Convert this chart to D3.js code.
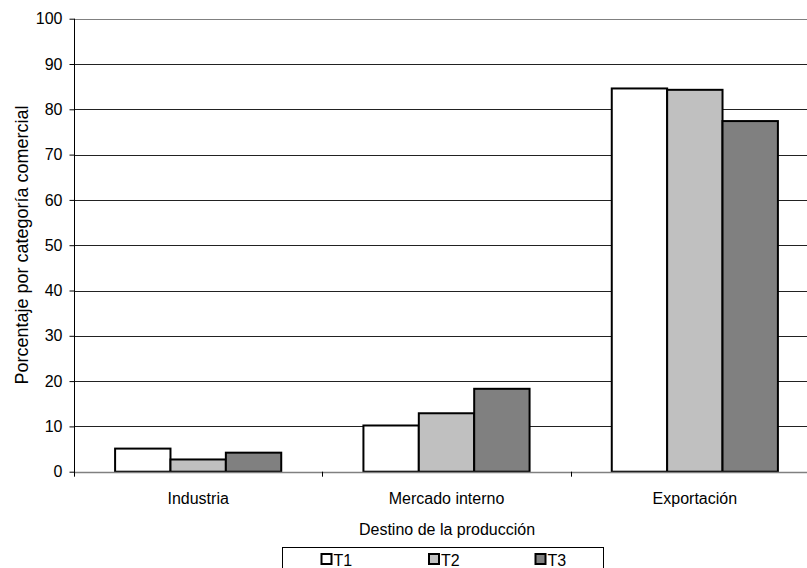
<!DOCTYPE html>
<html><head><meta charset="utf-8">
<script src="https://cdn.jsdelivr.net/npm/d3@7"></script>
<style>body{margin:0;background:#fff}svg{display:block}text{font-family:"Liberation Sans",Arial,sans-serif;fill:#000}</style>
</head><body><svg id="c" width="807" height="568"></svg>
<script>
const categories = ["Industria", "Mercado interno", "Exportación"];
const seriesNames = ["T1", "T2", "T3"];
const T1 = [5.1, 10.2, 84.6];
const T2 = [2.7, 12.9, 84.3];
const T3 = [4.2, 18.3, 77.4];
const yTicks = [0,10,20,30,40,50,60,70,80,90,100];
const colors = ["#ffffff", "#c0c0c0", "#808080"];
const series = [T1, T2, T3];

(function(){
const FS = "16px";
const svg = d3.select("#c");
const mLeft = 74, mRight = 819, mTop = 18.7, mBottom = 471.7;
const x = d3.scaleBand().domain(categories).range([mLeft, mRight]).paddingInner(0.331).paddingOuter(0.1655);
const x0 = d3.scaleBand().domain(categories).range([mLeft, mRight]);
const xs = d3.scaleBand().domain(seriesNames).range([0, x.bandwidth()]);
const y = d3.scaleLinear().domain([0, 100]).range([mBottom, mTop]);

// gridlines
svg.append("g").selectAll("line").data(yTicks.filter(d => d > 0)).join("line")
  .attr("x1", mLeft).attr("x2", 807).attr("y1", d => Math.round(y(d)) + 0.5).attr("y2", d => Math.round(y(d)) + 0.5)
  .attr("stroke", d => d === 100 ? "#808080" : "#222").attr("stroke-width", 1);

// bars
const g = svg.append("g");
categories.forEach((c, i) => {
  series.forEach((s, j) => {
    g.append("rect")
      .attr("x", x(c) + xs(seriesNames[j]))
      .attr("y", y(s[i]))
      .attr("width", xs.bandwidth())
      .attr("height", y(0) - y(s[i]))
      .attr("fill", colors[j]).attr("stroke", "#000").attr("stroke-width", 2);
  });
});

// zero baseline
svg.append("line").attr("x1", mLeft).attr("x2", 807).attr("y1", Math.round(y(0))+0.5).attr("y2", Math.round(y(0))+0.5)
  .attr("stroke", "#808080").attr("stroke-width", 1.5);

// y axis
const yAxis = d3.axisLeft(y).tickValues(yTicks).tickSize(5).tickPadding(7);
const ya = svg.append("g").attr("transform", `translate(${mLeft + 0.5},0)`).call(yAxis);
ya.attr("font-family", null).attr("font-size", null);
ya.select(".domain").attr("stroke", "#000").attr("d", `M0,${mTop}V${mBottom + 5}`);
ya.selectAll(".tick line").attr("stroke", "#000");
ya.selectAll("text").style("font-size", FS).attr("fill", "#000");

// x axis ticks (category boundaries)
const bounds = categories.map(c => x0(c)).concat([x0(categories[2]) + x0.bandwidth()]).slice(1);
svg.append("g").selectAll("line").data(bounds).join("line")
  .attr("x1", d => Math.round(d) + 0.5).attr("x2", d => Math.round(d) + 0.5)
  .attr("y1", mBottom).attr("y2", mBottom + 5).attr("stroke", "#000");
svg.append("g").selectAll("text").data(categories).join("text")
  .attr("x", d => x0(d) + x0.bandwidth() / 2).attr("y", 504)
  .attr("text-anchor", "middle").style("font-size", FS).text(d => d);

// axis titles
svg.append("text").attr("x", 447).attr("y", 535).attr("text-anchor", "middle").style("font-size", FS).text("Destino de la producción");
svg.append("text").attr("transform", "translate(28,245) rotate(-90)").attr("text-anchor", "middle").style("font-size", "18px").text("Porcentaje por categoría comercial");

// legend
const lg = svg.append("g");
lg.append("rect").attr("x", 282.5).attr("y", 547.5).attr("width", 321).attr("height", 30).attr("fill", "#fff").attr("stroke", "#000");
const lx = [321.5, 429, 535.5];
seriesNames.forEach((n, j) => {
  lg.append("rect").attr("x", lx[j]).attr("y", 554).attr("width", 10).attr("height", 10)
    .attr("fill", colors[j]).attr("stroke", "#000").attr("stroke-width", 2);
  lg.append("text").attr("x", lx[j] + 12).attr("y", 566).style("font-size", FS).text(n);
});
})();
</script></body></html>
